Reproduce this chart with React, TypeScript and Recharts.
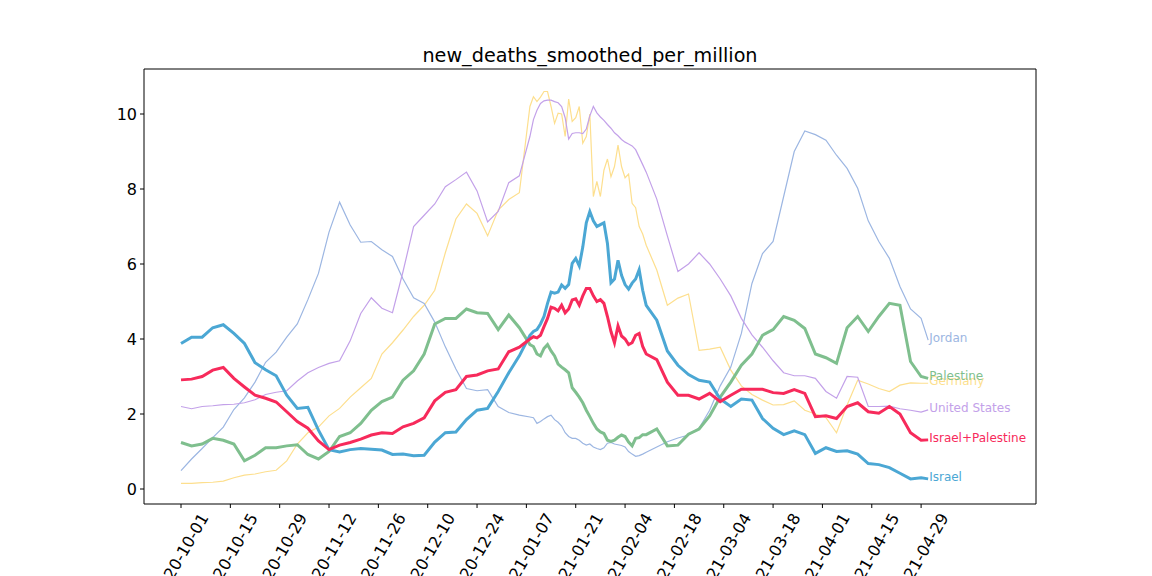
import React from 'react';
import { LineChart, Line, XAxis, YAxis, ReferenceLine } from 'recharts';

// Days since 2020-10-01 (every 3 days, daily during the winter peak, last point = 2021-05-01)
const days = [0,3,6,9,12,15,18,21,24,27,30,33,36,39,42,45,48,51,54,57,60,63,66,69,72,75,78,81,84,87,90,93,96,
  99,100,101,102,103,104,105,106,107,108,109,110,111,112,113,114,115,116,117,118,119,120,121,122,123,124,125,126,127,128,129,130,131,132,
  135,138,141,144,147,150,153,156,159,162,165,168,171,174,177,180,183,186,189,192,195,198,201,204,207,210,212];

const germany = [0.15,0.15,0.17,0.18,0.21,0.3,0.37,0.4,0.46,0.5,0.75,1.2,1.5,1.65,1.95,2.15,2.45,2.7,2.95,3.6,3.9,4.24,4.6,4.9,5.3,6.3,7.2,7.6,7.35,6.75,7.44,7.72,7.9,
  10.2,10.46,10.33,10.45,10.6,10.6,10.2,9.75,10.02,10.0,9.4,10.4,9.8,9.9,10.2,9.22,9.4,10.0,7.8,8.2,7.8,8.5,8.8,8.33,8.6,9.17,8.6,8.3,8.4,7.62,7.5,7.0,6.8,6.5,
  5.84,4.9,5.09,5.2,3.7,3.73,3.78,3.17,2.75,2.52,2.37,2.24,2.25,2.35,2.1,2.0,1.9,1.5,2.24,2.9,2.8,2.68,2.6,2.77,2.83,2.82,2.82];
const jordan = [0.49,0.8,1.08,1.37,1.65,2.12,2.43,2.85,3.38,3.65,4.05,4.4,5.05,5.75,6.85,7.65,7.04,6.58,6.6,6.38,6.2,5.6,5.1,4.95,4.45,3.79,3.2,2.68,2.62,2.65,2.2,2.04,1.97,
  1.92,1.9,1.75,1.8,1.87,1.93,1.97,1.85,1.78,1.68,1.5,1.4,1.35,1.35,1.3,1.22,1.17,1.2,1.12,1.08,1.05,1.1,1.22,1.24,1.2,1.18,1.16,1.12,1.0,0.93,0.87,0.89,0.93,0.98,
  1.12,1.26,1.36,1.44,1.62,2.1,2.75,3.25,4.15,5.48,6.28,6.6,7.8,9.0,9.55,9.45,9.3,8.9,8.55,8.02,7.15,6.6,6.15,5.4,4.8,4.55,3.97];
const unitedStates = [2.2,2.14,2.2,2.22,2.25,2.26,2.3,2.38,2.52,2.58,2.62,2.88,3.1,3.24,3.35,3.42,3.95,4.68,5.1,4.82,4.7,5.8,7.0,7.3,7.6,8.06,8.25,8.45,7.95,7.12,7.4,8.17,8.35,
  9.4,9.85,10.1,10.28,10.35,10.37,10.37,10.33,10.3,10.2,9.9,9.33,9.48,9.5,9.5,9.48,9.6,9.95,10.2,10.03,9.92,9.83,9.72,9.62,9.5,9.42,9.32,9.25,9.2,9.15,9.05,8.85,8.65,8.45,
  7.73,6.75,5.8,6.0,6.3,6.0,5.6,5.15,4.55,4.11,3.78,3.42,3.1,3.02,3.02,2.95,2.6,2.42,3.0,2.98,2.2,2.2,2.21,2.14,2.1,2.05,2.11];
const palestine = [1.24,1.15,1.2,1.35,1.3,1.2,0.75,0.9,1.1,1.1,1.15,1.18,0.92,0.8,1.0,1.4,1.5,1.75,2.1,2.33,2.45,2.9,3.15,3.6,4.4,4.55,4.55,4.8,4.7,4.68,4.25,4.64,4.3,
  3.85,3.8,3.6,3.55,3.75,3.85,3.68,3.55,3.33,3.25,3.18,3.1,2.7,2.58,2.45,2.3,2.1,1.93,1.75,1.6,1.52,1.48,1.3,1.27,1.3,1.38,1.44,1.4,1.25,1.15,1.35,1.37,1.45,1.45,
  1.6,1.15,1.17,1.46,1.6,1.95,2.45,2.85,3.3,3.6,4.1,4.25,4.6,4.5,4.28,3.6,3.5,3.35,4.3,4.6,4.2,4.6,4.95,4.9,3.4,3.0,2.95];
const israel = [3.88,4.05,4.05,4.3,4.38,4.15,3.88,3.37,3.18,3.02,2.5,2.15,2.18,1.57,1.05,0.99,1.05,1.08,1.06,1.04,0.92,0.93,0.89,0.9,1.25,1.5,1.52,1.85,2.1,2.15,2.6,3.1,3.55,
  4.1,4.2,4.25,4.4,4.6,4.95,5.25,5.22,5.25,5.44,5.35,5.45,6.02,6.15,5.95,6.45,7.1,7.4,7.15,7.0,7.05,7.1,6.55,5.5,5.6,6.1,5.7,5.45,5.33,5.49,5.6,5.85,5.3,4.9,
  4.5,3.68,3.3,3.05,2.9,2.85,2.4,2.2,2.4,2.37,1.88,1.62,1.45,1.55,1.45,0.95,1.1,1.0,1.02,0.93,0.68,0.65,0.57,0.42,0.27,0.3,0.27];
const israelPalestine = [2.91,2.93,3.0,3.17,3.24,2.95,2.72,2.5,2.42,2.32,2.06,1.8,1.62,1.28,1.05,1.17,1.24,1.33,1.44,1.5,1.48,1.66,1.75,1.9,2.35,2.58,2.65,3.0,3.04,3.15,3.2,3.66,3.78,
  4.0,4.06,4.03,4.1,4.33,4.55,4.85,4.82,4.75,4.9,4.7,4.8,5.04,5.07,4.9,5.15,5.35,5.35,5.15,5.0,5.05,4.95,4.6,4.2,3.9,4.35,4.08,4.0,3.85,3.9,4.1,4.15,3.8,3.6,
  3.45,2.85,2.5,2.5,2.4,2.55,2.33,2.5,2.66,2.66,2.66,2.57,2.55,2.65,2.55,1.93,1.95,1.88,2.2,2.3,2.06,2.02,2.2,2.0,1.5,1.3,1.31];

const xTicks = [0,14,28,42,56,70,84,98,112,126,140,154,168,182,196,210];
const xTickLabels = ['2020-10-01','2020-10-15','2020-10-29','2020-11-12','2020-11-26','2020-12-10','2020-12-24','2021-01-07','2021-01-21','2021-02-04','2021-02-18','2021-03-04','2021-03-18','2021-04-01','2021-04-15','2021-04-29'];
const yTicks = [0,2,4,6,8,10];

const xDomain = [-10.5, 242.6];
const yDomain = [-0.4, 11.2];

const FONT = 'DejaVu Sans, sans-serif';

const series = [
  { key: 'germany', name: 'Germany', color: '#fddf8e', width: 1.2, values: germany },
  { key: 'jordan', name: 'Jordan', color: '#9cb6e2', width: 1.2, values: jordan },
  { key: 'unitedStates', name: 'United States', color: '#c3a1e9', width: 1.2, values: unitedStates },
  { key: 'palestine', name: 'Palestine', color: '#7fbf8e', width: 3, values: palestine },
  { key: 'israel', name: 'Israel', color: '#4ba7d4', width: 3, values: israel },
  { key: 'israelPalestine', name: 'Israel+Palestine', color: '#f72a5b', width: 3, values: israelPalestine },
];

const data = days.map((d, i) => {
  const row: Record<string, number> = { day: d };
  series.forEach((s) => { row[s.key] = s.values[i]; });
  return row;
});

const XTick = (props: any) => {
  const { x, y, payload } = props;
  const idx = xTicks.indexOf(payload.value);
  const label = idx >= 0 ? xTickLabels[idx] : '';
  const cy = y + 44;
  return (
    <text
      x={x}
      y={cy}
      textAnchor="middle"
      dominantBaseline="central"
      transform={`rotate(-60 ${x} ${cy})`}
      fontSize={16}
      fill="#000"
      fontFamily={FONT}
    >
      {label}
    </text>
  );
};

const makeEndLabel = (name: string, color: string) => (props: any) => {
  const { x, y, index } = props;
  if (index !== days.length - 1) return <g />;
  return (
    <text x={x + 1} y={y + 2} fill={color} fontSize={12} fontFamily={FONT}>
      {name}
    </text>
  );
};

export default function App() {
  return (
    <div style={{ position: 'absolute', left: 0, top: 0, width: 1152, height: 576, background: '#fff' }}>
      <div
        style={{
          position: 'absolute',
          left: 144,
          width: 892,
          top: 44,
          textAlign: 'center',
          fontFamily: FONT,
          fontSize: 19.2,
          lineHeight: '24px',
          color: '#000',
        }}
      >
        new_deaths_smoothed_per_million
      </div>
      <LineChart
        width={1152}
        height={576}
        data={data}
        margin={{ top: 69, right: 116, bottom: 0, left: 0 }}
      >
        <XAxis
          dataKey="day"
          type="number"
          domain={xDomain}
          allowDataOverflow
          ticks={xTicks}
          tick={<XTick />}
          tickSize={4}
          tickMargin={3}
          height={72}
          stroke="#000"
          tickLine={{ stroke: '#000' }}
          interval={0}
        />
        <YAxis
          type="number"
          domain={yDomain}
          allowDataOverflow
          ticks={yTicks}
          width={144}
          tickSize={4}
          tickMargin={3}
          stroke="#000"
          tickLine={{ stroke: '#000' }}
          tick={{ fontSize: 16, fill: '#000', fontFamily: FONT }}
          interval={0}
        />
        <ReferenceLine y={yDomain[1]} stroke="#000" strokeWidth={1} />
        <ReferenceLine x={xDomain[1]} stroke="#000" strokeWidth={1} />
        {series.map((s) => (
          <Line
            key={s.key}
            dataKey={s.key}
            type="linear"
            stroke={s.color}
            strokeWidth={s.width}
            dot={false}
            activeDot={false}
            isAnimationActive={false}
            label={makeEndLabel(s.name, s.color)}
          />
        ))}
      </LineChart>
    </div>
  );
}
